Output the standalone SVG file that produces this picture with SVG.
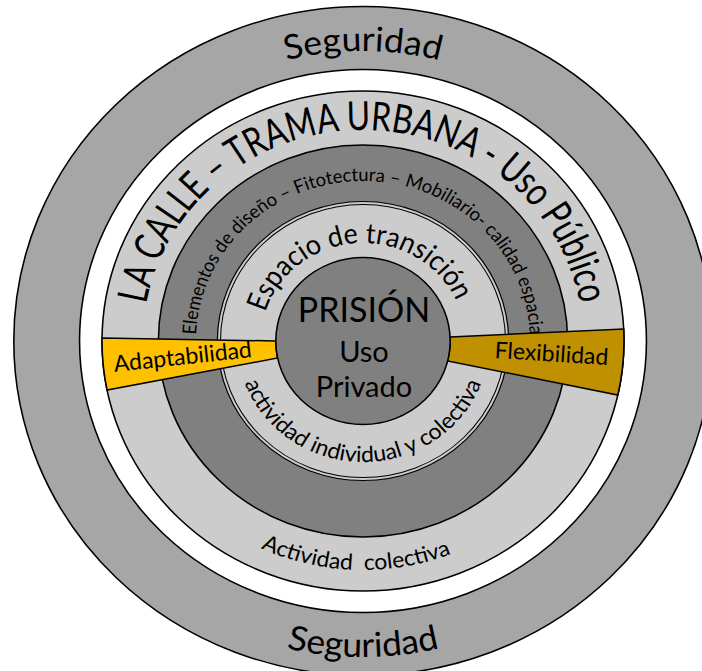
<svg xmlns="http://www.w3.org/2000/svg" width="702" height="671" viewBox="0 0 702 671">
<style>
.ln{stroke:#000;stroke-width:1.5}
.t{font-family:Lato,"Open Sans","Liberation Sans",sans-serif;fill:#000}
</style>
<defs>
<path id="pSegTop" d="M0,290 A290,290 0 0 1 0,-290 A290,290 0 0 1 0,290"/>
<path id="pSegBot" d="M0,-316 A316,316 0 0 0 0,316 A316,316 0 0 0 0,-316"/>
<path id="pCalle" d="M0,211 A211,211 0 0 1 0,-211 A211,211 0 0 1 0,211"/>
<path id="pElem" d="M0,160 A160,160 0 0 1 0,-160 A160,160 0 0 1 0,160"/>
<path id="pEsp" d="M0,98 A98,98 0 0 1 0,-98 A98,98 0 0 1 0,98"/>
<path id="pActInd" d="M0,-121 A121,121 0 0 0 0,121 A121,121 0 0 0 0,-121"/>
<path id="pActCol" d="M0,-229 A229,229 0 0 0 0,229 A229,229 0 0 0 0,-229"/>
</defs>
<rect width="702" height="671" fill="#fff"/>
<g transform="translate(363,341) scale(1.044,1)">
  <g id="seguridad">
    <circle r="334.5" fill="#A6A6A6" class="ln"/>
    <circle r="271.5" fill="#fff" class="ln"/>
    <text class="t" font-size="34"><textPath href="#pSegTop" startOffset="50%" text-anchor="middle">Seguridad</textPath></text>
    <text class="t" font-size="34"><textPath href="#pSegBot" startOffset="50%" text-anchor="middle">Seguridad</textPath></text>
  </g>
  <g id="la-calle">
    <circle r="250" fill="#CCCCCC" class="ln"/>
    <text class="t" font-size="40"><textPath href="#pCalle" startOffset="50%" text-anchor="middle" textLength="588" lengthAdjust="spacingAndGlyphs">LA CALLE – TRAMA URBANA - Uso Público</textPath></text>
    <text class="t" font-size="22" xml:space="preserve"><textPath href="#pActCol" startOffset="49.5%" text-anchor="middle">Actividad  colectiva</textPath></text>
  </g>
  <g id="elementos">
    <circle r="196" fill="#808080" class="ln"/>
    <text class="t" font-size="18.5"><textPath href="#pElem" startOffset="50%" text-anchor="middle" textLength="490" lengthAdjust="spacingAndGlyphs">Elementos de diseño – Fitotectura – Mobiliario- calidad espacia</textPath></text>
  </g>
  <g id="espacio-transicion">
    <circle r="139.5" fill="#CCCCCC" stroke="#000" stroke-width="1.2"/>
    <circle r="136.5" fill="none" stroke="#000" stroke-width="1"/>
    <text class="t" font-size="28"><textPath href="#pEsp" startOffset="49%" text-anchor="middle" textLength="237" lengthAdjust="spacingAndGlyphs">Espacio de transición</textPath></text>
    <text class="t" font-size="22"><textPath href="#pActInd" startOffset="50%" text-anchor="middle" textLength="294" lengthAdjust="spacingAndGlyphs">actividad individual y colectiva</textPath></text>
  </g>
  <g id="adaptabilidad">
    <path d="M-249.98,-3 L-83.5,0 A83.5,83.5 0 0 0 -81.75,17 L-245.15,49 A250,250 0 0 1 -249.98,-3 Z" fill="#FFC000" class="ln"/>
  </g>
  <g id="flexibilidad">
    <path d="M83.4,-4 L249.7,-12 A250,250 0 0 1 244.1,54 L81.07,20 A83.5,83.5 0 0 0 83.4,-4 Z" fill="#BF9000" class="ln"/>
  </g>
  <g id="prision">
    <circle r="83.5" fill="#808080" class="ln"/>
  </g>
</g>
<text class="t" font-size="23" transform="translate(183.5,364.5) rotate(-6.2)" text-anchor="middle">Adaptabilidad</text>
<text class="t" font-size="23" transform="translate(551,361.5) rotate(3.6)" text-anchor="middle">Flexibilidad</text>
<text class="t" font-size="34" x="364" y="322" text-anchor="middle">PRISIÓN</text>
<text class="t" font-size="29" x="364" y="362" text-anchor="middle">Uso</text>
<text class="t" font-size="29" x="364" y="397" text-anchor="middle">Privado</text>
</svg>
